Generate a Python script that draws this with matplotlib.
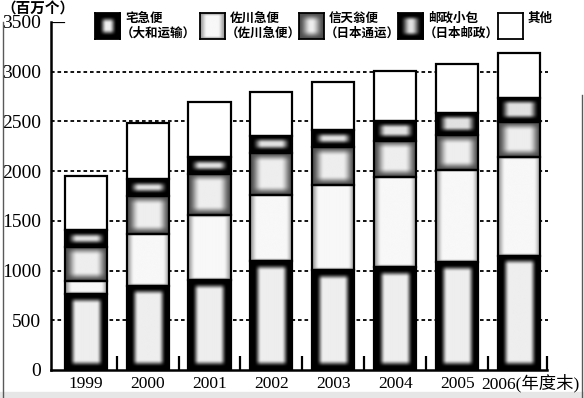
import numpy as np
import matplotlib
matplotlib.use('Agg')
import matplotlib.pyplot as plt
from matplotlib.lines import Line2D
from matplotlib.patches import Rectangle

# data (百万个)
years = ['1999', '2000', '2001', '2002', '2003', '2004', '2005', '2006']
yamato = [764, 845, 905, 1096, 1002, 1033, 1086, 1150]
sagawa = [134, 526, 651, 667, 862, 908, 929, 989]
nittsu = [342, 382, 415, 416, 376, 365, 348, 352]
yupack = [168, 165, 168, 174, 170, 202, 222, 248]
others = [546, 569, 559, 439, 483, 499, 492, 452]

names = ['宅急便', '佐川急便', '信天翁便', '邮政小包', '其他']
subs = ['（大和运输）', '（佐川急便）', '（日本通运）', '（日本邮政）', '']

# shading: edge, inner, x ramp start/end, y ramp start/end (pixels)
shades = [
    (0.0, 0.93, 4, 11, 3, 10),
    (0.62, 0.97, 0, 7, 0, 3),
    (0.3, 0.93, 0, 12, 0, 9),
    (0.0, 0.88, 2, 12, 2, 8),
    (1.0, 1.0, 0, 1, 0, 1),
]


def smooth(t):
    t = np.clip(t, 0, 1)
    return t * t * (3 - 2 * t)


def texture(w, h, p):
    edge, inner, x0, x1, y0, y1 = p
    xs = np.arange(int(w * 2) + 1) / 2
    ys = np.arange(int(h * 2) + 1) / 2
    dx = np.minimum(xs, w - xs)
    dy = np.minimum(ys, h - ys)
    fx = smooth((dx - x0) / (x1 - x0))
    fy = smooth((dy - y0) / (y1 - y0))
    return edge + (inner - edge) * np.outer(fy, fx)


W, H = 584, 398
fig = plt.figure(figsize=(W / 100, H / 100), dpi=100)
ax = fig.add_axes([51 / W, 28 / H, 496 / W, 348 / H])
x = np.arange(len(years))
ax.set_xlim(-0.56, 7.45)
ax.set_ylim(0, 3500)

px_x = ax.transData.transform((1, 0))[0] - ax.transData.transform((0, 0))[0]
px_y = ax.transData.transform((0, 1))[1] - ax.transData.transform((0, 0))[1]

bw = 0.68
series = [yamato, sagawa, nittsu, yupack, others]
bottom = np.zeros(len(years))
for vals, p in zip(series, shades):
    for i, v in enumerate(vals):
        img = texture(bw * px_x, v * px_y, p)
        ax.imshow(img, extent=(x[i] - bw / 2, x[i] + bw / 2, bottom[i], bottom[i] + v),
                  origin='lower', cmap='gray', vmin=0, vmax=1, aspect='auto',
                  interpolation='bilinear', zorder=2)
    ax.bar(x, vals, bw, bottom=bottom, fill=False, edgecolor='black', linewidth=1.6, zorder=3)
    bottom += np.array(vals)

ax.set_xlim(-0.56, 7.45)
ax.set_ylim(0, 3500)

# dotted grid
ax.hlines(np.arange(500, 3001, 500), -0.56, 7.46, colors='black', linewidth=1.3,
          linestyles=(0, (2, 1.6)), zorder=1, clip_on=False)
ax.axhline(3500, xmin=0, xmax=0.026, color='black', linewidth=1.6)

for s in ['top', 'right']:
    ax.spines[s].set_visible(False)
for s in ['left', 'bottom']:
    ax.spines[s].set_linewidth(1.8)

ax.set_yticks(np.arange(0, 3501, 500))
ax.tick_params(axis='y', length=0, pad=7, labelsize=14)
for lab in ax.get_yticklabels():
    lab.set_family('Liberation Serif')

ax.set_xticks(x)
ax.set_xticklabels(years[:-1] + [''])
ax.set_xticks(list(np.arange(0.5, 7, 1)) + [7.45], minor=True)
ax.tick_params(axis='x', which='major', length=0, pad=4, labelsize=12.5)
ax.tick_params(axis='x', which='minor', direction='in', length=10, width=1.6)
for lab in ax.get_xticklabels():
    lab.set_family('Liberation Serif')
ax.annotate('2006(年度末)', xy=(7, 0), xycoords=('data', 'axes fraction'),
            xytext=(-27, -3), textcoords='offset points', ha='left', va='top',
            fontsize=12.5, family=['Liberation Serif', 'Noto Sans CJK SC'])

fig.text(1 / W, 1 - 9 / H, '（百万个）', fontsize=10.5, weight='bold',
         family='Noto Sans CJK SC', va='center', ha='left')

# legend
lx = [95, 200, 299, 398, 498]
for i in range(5):
    lax = fig.add_axes([lx[i] / W, 1 - 39 / H, 25 / W, 26 / H])
    lax.imshow(texture(25, 26, shades[i]), cmap='gray', vmin=0, vmax=1,
               aspect='auto', interpolation='bilinear')
    lax.set_xticks([])
    lax.set_yticks([])
    for s in lax.spines.values():
        s.set_linewidth(1.3)
    fig.text((lx[i] + 30) / W, 1 - 18 / H, names[i], fontsize=9, weight='bold',
             family='Noto Sans CJK SC', va='center', ha='left')
    if subs[i]:
        fig.text((lx[i] + 26) / W, 1 - 33.5 / H, subs[i], fontsize=9, weight='bold',
                 family='Noto Sans CJK SC', va='center', ha='left')

# scan edges
fig.add_artist(Line2D([3 / W, 3 / W], [0, 1 - 22 / H], color='0.35', linewidth=1))
fig.add_artist(Line2D([582 / W, 582 / W], [0, 1 - 95 / H], color='0.35', linewidth=1))
fig.add_artist(Rectangle((0, 0), 1, 6 / H, transform=fig.transFigure, color='0.9', zorder=0))

plt.savefig('out.png', dpi=100)
